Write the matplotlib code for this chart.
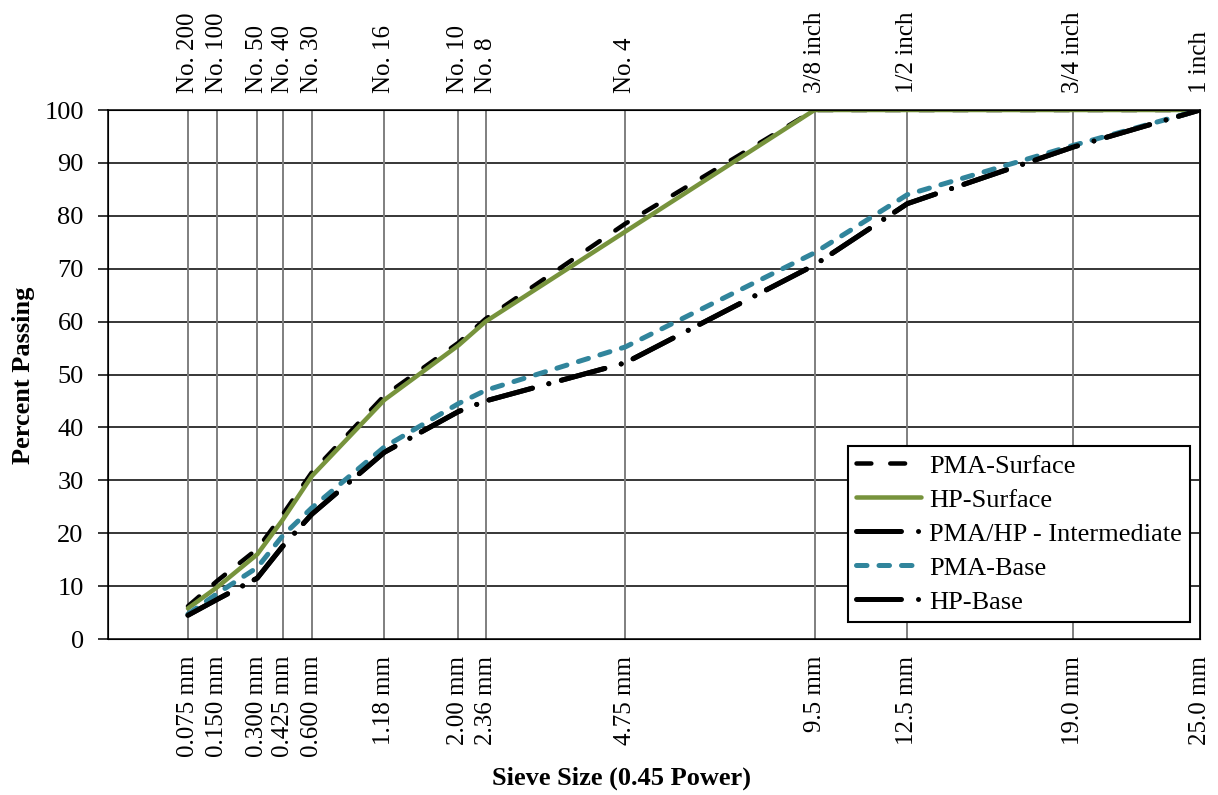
import numpy as np
import matplotlib
matplotlib.use("Agg")
import matplotlib.pyplot as plt

plt.rcParams['font.family'] = ['Liberation Serif', 'DejaVu Serif']

# Sieve openings (mm) and labels
sieve_mm = [0.075, 0.150, 0.300, 0.425, 0.600, 1.18, 2.00, 2.36, 4.75, 9.5, 12.5, 19.0, 25.0]
mm_labels = ["0.075 mm", "0.150 mm", "0.300 mm", "0.425 mm", "0.600 mm", "1.18 mm",
             "2.00 mm", "2.36 mm", "4.75 mm", "9.5 mm", "12.5 mm", "19.0 mm", "25.0 mm"]
sieve_names = ["No. 200", "No. 100", "No. 50", "No. 40", "No. 30", "No. 16",
               "No. 10", "No. 8", "No. 4", "3/8 inch", "1/2 inch", "3/4 inch", "1 inch"]

# Percent passing for each mix
pma_surface = [6.2, 11.0, 17.0, 23.5, 31.5, 46.0, 56.0, 60.5, 78.5, 100, 100, 100, 100]
hp_surface = [5.8, 9.8, 16.0, 22.5, 30.8, 45.2, 55.5, 60.0, 77.0, 100, 100, 100, 100]
pma_hp_intermediate = [4.5, 7.5, 11.5, 17.5, 23.6, 35.3, 43.0, 45.0, 52.2, 70.7, 82.3, 93.0, 100]
pma_base = [4.7, 8.6, 13.5, 19.5, 24.8, 36.3, 44.5, 47.0, 55.2, 73.0, 84.0, 93.3, 100]
hp_base = [4.5, 7.5, 11.5, 17.5, 23.6, 35.3, 43.0, 45.0, 52.2, 70.7, 82.3, 93.0, 100]

power = 0.45
xpos = np.array(sieve_mm) ** power

green = "#77933C"
teal = "#31859C"

W, H = 1218, 795
fig = plt.figure(figsize=(W / 100, H / 100), dpi=100)
ax = fig.add_axes([108 / W, 1 - 639 / H, 1092 / W, 529 / H])

px = 72 / 100.0
lw_a = 4.5 * px
lw_b = 5.0 * px
dashdot = (0, (9.0, 3.4, 0.01, 2.6))

ax.plot(xpos, pma_surface, color="black", lw=lw_a, linestyle=(0, (3.3, 4.2)),
        dash_capstyle="round", label="PMA-Surface", zorder=3)
ax.plot(xpos, hp_surface, color=green, lw=lw_a, solid_capstyle="round",
        label="HP-Surface", zorder=4)
ax.plot(xpos, pma_hp_intermediate, color="black", lw=lw_b, linestyle=dashdot,
        dash_capstyle="round", label="PMA/HP - Intermediate", zorder=3)
ax.plot(xpos, pma_base, color=teal, lw=lw_b, linestyle=(0, (2.1, 2.4)),
        dash_capstyle="round", label="PMA-Base", zorder=4)
ax.plot(xpos, hp_base, color="black", lw=lw_b, linestyle=dashdot,
        dash_capstyle="round", label="HP-Base", zorder=5)

xmax = 25.0 ** power
ax.set_xlim(0, xmax)
ax.set_ylim(0, 100)
ax.set_yticks(np.arange(0, 101, 10))
ax.set_xticks(xpos)
ax.set_xticklabels(mm_labels, rotation=90, fontsize=18)
ax.tick_params(axis="y", labelsize=19, length=7.5, width=1.1, direction="out", pad=10)
ax.tick_params(axis="x", length=0, pad=12)

# Grid: black horizontal, grey vertical at each sieve
for v in np.arange(10, 100, 10):
    ax.axhline(v, color="black", lw=1.1, zorder=1)
for xv in xpos:
    ax.axvline(xv, color="#7f7f7f", lw=1.4, zorder=1)
for s in ax.spines.values():
    s.set_color("black")
    s.set_linewidth(1.1)

fig.text(24 / W, 1 - 375 / H, "Percent Passing", fontsize=19, fontweight="bold",
         rotation=90, ha="center", va="center")
fig.text(621 / W, 1 - 778 / H, "Sieve Size (0.45 Power)", fontsize=19,
         fontweight="bold", ha="center", va="center")

top = ax.twiny()
top.set_xlim(ax.get_xlim())
top.set_xticks(xpos)
top.set_xticklabels(sieve_names, rotation=90, fontsize=18)
top.tick_params(axis="x", length=0, pad=12)

leg = ax.legend(loc="lower right", bbox_to_anchor=(0.991, 0.032), fontsize=19,
                frameon=True, fancybox=False, edgecolor="black", framealpha=1,
                handlelength=2.45, handletextpad=0.3, labelspacing=0.4,
                borderpad=0.32, borderaxespad=0)
leg.get_frame().set_linewidth(1.5)
leg.set_zorder(10)

fig.savefig("out.png", dpi=100)
